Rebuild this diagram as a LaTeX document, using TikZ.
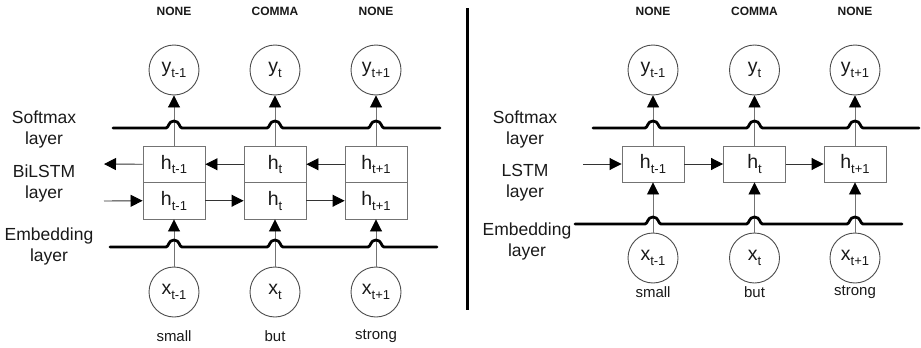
\documentclass[tikz,border=0pt]{standalone}
\usepackage{fontspec}
\setmainfont{Liberation Sans}
\usetikzlibrary{arrows.meta}

% subscript set smaller and lowered, as in y_{t-1}
\newcommand\lsub[1]{\raisebox{-4.5pt}{\fontsize{13}{13}\selectfont #1}}
% thick layer rule that hops over the vertical connectors
\newcommand\humpline[4]{%
  \draw[layerline] (#2,#1) foreach \c in {#4} {
    -- (\c-8,#1) .. controls (\c-5,#1) and (\c-6,#1-7) .. (\c,#1-7)
    .. controls (\c+6,#1-7) and (\c+5,#1) .. (\c+8,#1) } -- (#3,#1);}

\begin{document}
\begin{tikzpicture}[x=1pt,y=-1pt,
  unitnode/.style={circle,draw=black!70,line width=0.9pt,minimum size=50pt,
    inner sep=0pt,text=black!90,font=\fontsize{19.5}{19.5}\selectfont},
  cellbox/.style={rectangle,draw=black!55,line width=0.9pt,minimum width=62pt,
    minimum height=36.5pt,inner sep=0pt,text=black!90,font=\fontsize{19.5}{19.5}\selectfont},
  arr/.style={draw=black!80,line width=0.9pt,
    -{Triangle[width=12pt,length=12pt,color=black]}},
  feed/.style={draw=black!55,line width=0.9pt,
    -{Triangle[width=12pt,length=12pt,color=black]}},
  layerline/.style={line width=2.8pt,black,line cap=round,line join=round},
  tag/.style={font=\fontsize{17.5}{21}\selectfont,align=center,text=black!90},
  title/.style={font=\bfseries\fontsize{12}{12}\selectfont,text=black!90},
  word/.style={font=\fontsize{15}{15}\selectfont,text=black!90}]

\useasboundingbox (0,0) rectangle (921,348);

% ---------------- BiLSTM model ----------------
\foreach \c/\s/\t/\w [count=\i] in {174/t-1/NONE/small,275/t/COMMA/but,376/t+1/NONE/strong}{
  \node[title] (tL\i) at (\c,11) {\t};
  \node[unitnode] (yL\i) at (\c,70) {y\lsub{\s}};
  \node[cellbox] (hLt\i) at (\c,164.25) {h\lsub{\s}};
  \node[cellbox] (hLb\i) at (\c,200.75) {h\lsub{\s}};
  \node[unitnode] (xL\i) at (\c,292) {x\lsub{\s}};
  \node[word] (wL\i) at (\c,336) {\w};
}

\node[tag] (sL) at (44,129) {Softmax\\layer};
\node[tag] (bL) at (44,183) {BiLSTM\\layer};
\node[tag] (eL) at (49,246) {Embedding\\layer};

\coordinate (backEnd) at (104,164);
\coordinate (fwdStart) at (104,201);

\foreach \i in {1,2,3}{
  \draw[feed] (xL\i.north) -- (hLb\i.south);
  \draw[feed] (hLt\i.north) -- (yL\i.south);
}
\draw[arr] (hLt1.west) -- (backEnd);
\draw[arr] (hLt2.west) -- (hLt1.east);
\draw[arr] (hLt3.west) -- (hLt2.east);
\draw[arr] (fwdStart) -- (hLb1.west);
\draw[arr] (hLb1.east) -- (hLb2.west);
\draw[arr] (hLb2.east) -- (hLb3.west);

\humpline{128}{113}{440}{174,275,376}
\humpline{247}{110}{437}{174,275,376}

% ---------------- separator ----------------
\coordinate (sepTop) at (467,8);
\coordinate (sepBot) at (467,310);
\draw[line width=3pt,black] (sepTop) -- (sepBot);

% ---------------- LSTM model ----------------
\foreach \c/\s/\t/\w [count=\i] in {653/t-1/NONE/small,754.5/t/COMMA/but,855/t+1/NONE/strong}{
  \node[title] (tR\i) at (\c,11) {\t};
  \node[unitnode] (yR\i) at (\c,70) {y\lsub{\s}};
  \node[cellbox,minimum height=36pt] (hR\i) at (\c,164) {h\lsub{\s}};
  \node[unitnode] (xR\i) at (\c,258) {x\lsub{\s}};
  \node[word] (wR\i) at (\c,292) {\w};
}

\node[tag] (sR) at (525,129) {Softmax\\layer};
\node[tag] (lR) at (525,183) {LSTM\\layer};
\node[tag] (eR) at (527,241) {Embedding\\layer};

\coordinate (inStart) at (583,164);

\foreach \i in {1,2,3}{
  \draw[feed] (xR\i.north) -- (hR\i.south);
  \draw[feed] (hR\i.north) -- (yR\i.south);
}
\draw[arr] (inStart) -- (hR1.west);
\draw[arr] (hR1.east) -- (hR2.west);
\draw[arr] (hR2.east) -- (hR3.west);

\humpline{128}{593}{919}{653,754.5,855}
\humpline{224}{575}{902}{653,754.5,855}

\end{tikzpicture}
\end{document}
